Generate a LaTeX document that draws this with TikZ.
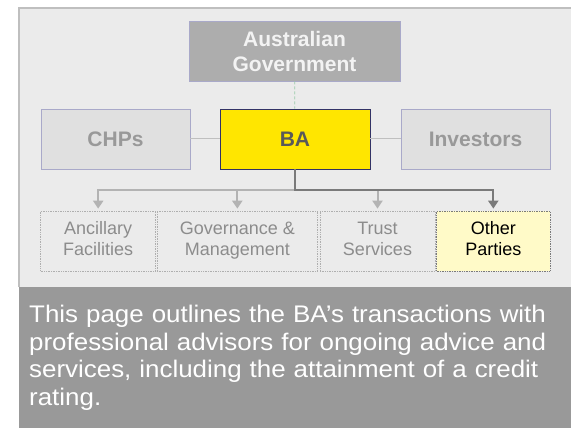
\documentclass[tikz,border=0pt]{standalone}
\usepackage{fontspec}
\setmainfont{Liberation Sans}
\newfontfamily\notefont[FakeStretch=1.08]{Liberation Sans}
\usetikzlibrary{arrows.meta}
\definecolor{panelgray}{HTML}{EBEBEB}
\definecolor{panelline}{HTML}{BFBFBF}
\definecolor{govfill}{HTML}{ADADAD}
\definecolor{boxfill}{HTML}{E0E0E0}
\definecolor{boxline}{HTML}{A9A9C9}
\definecolor{bayellow}{HTML}{FFE600}
\definecolor{banavy}{HTML}{333366}
\definecolor{softgray}{HTML}{999999}
\definecolor{textgray}{HTML}{8C8C8C}
\definecolor{otherfill}{HTML}{FFFAC8}
\definecolor{linklight}{HTML}{B3B3B3}
\definecolor{linkdark}{HTML}{7A7A7A}
\definecolor{govlink}{HTML}{99CCAA}

\begin{document}
\begin{tikzpicture}[x=1pt, y=-1pt,
  topbox/.style={draw=boxline, line width=0.8pt, fill=boxfill, text=softgray,
    minimum height=60pt, inner sep=0pt,
    font=\bfseries\fontsize{21}{25}\selectfont},
  unitbox/.style={draw=textgray!70, densely dotted, line width=0.7pt, fill=panelgray,
    text=textgray, minimum height=60pt, inner sep=0pt, align=center,
    font=\fontsize{18}{21}\selectfont},
  thinlink/.style={panelline, line width=1pt},
  lightarrow/.style={linklight, line width=2pt, -{Triangle[width=10pt,length=8pt]}, shorten >=2pt},
  darkarrow/.style={linkdark, line width=2pt, -{Triangle[width=10pt,length=8pt]}, shorten >=2pt}]
  % Fondo
  \useasboundingbox (0,0) rectangle (571,428);
  \fill[white] (0,0) rectangle (571,428);
  \fill[panelgray] (19,8) rectangle (571,287);
  \draw[panelline, line width=1.5pt] (19,287) -- (19,8) -- (571,8);
  % Cajas de arriba
  \node[topbox, fill=govfill, text=panelgray!60!white, minimum width=211pt, align=center]
    (gov) at (294.5,51) {Australian\\Government};
  \node[topbox, minimum width=149pt] (chps) at (115.5,139) {CHPs};
  \node[topbox, draw=banavy, fill=bayellow, text=black!65, minimum width=150pt] (ba) at (295,139) {BA};
  \node[topbox, minimum width=149pt] (inv) at (475.5,139) {Investors};
  % Cajas de abajo
  \node[unitbox, minimum width=115pt] (anc) at (98.2,241) {\strut Ancillary\\\strut Facilities};
  \node[unitbox, minimum width=160.7pt] (gvm) at (237.3,241) {\strut Governance \&\\\strut Management};
  \node[unitbox, minimum width=115pt] (trust) at (377.5,241) {\strut Trust\\\strut Services};
  \node[unitbox, draw=linkdark, fill=otherfill, text=black, minimum width=113.3pt] (other) at (493.3,241) {\strut Other\\\strut Parties};
  % Enlaces
  \draw[thinlink] (chps) -- (ba);
  \draw[thinlink] (ba) -- (inv);
  \draw[govlink, densely dashed, line width=0.7pt] (gov) -- (ba);
  \coordinate (split) at (295,190);
  \draw[lightarrow] (split) -| (anc.north);
  \draw[lightarrow] (split) -| (gvm.north);
  \draw[lightarrow] (split) -| (trust.north);
  \draw[darkarrow] (ba.south) -- (split) -| (other.north);
  % Texto de abajo
  \node[fill=softgray, anchor=north west, minimum width=552pt, minimum height=141pt,
    inner xsep=10pt, text width=532pt, align=left, text=white,
    font=\notefont\fontsize{24}{27.7}\selectfont] (note) at (19,287)
    {This page outlines the BA’s transactions with\\professional advisors for ongoing advice and\\services, including the attainment of a credit\\rating.};
\end{tikzpicture}
\end{document}
